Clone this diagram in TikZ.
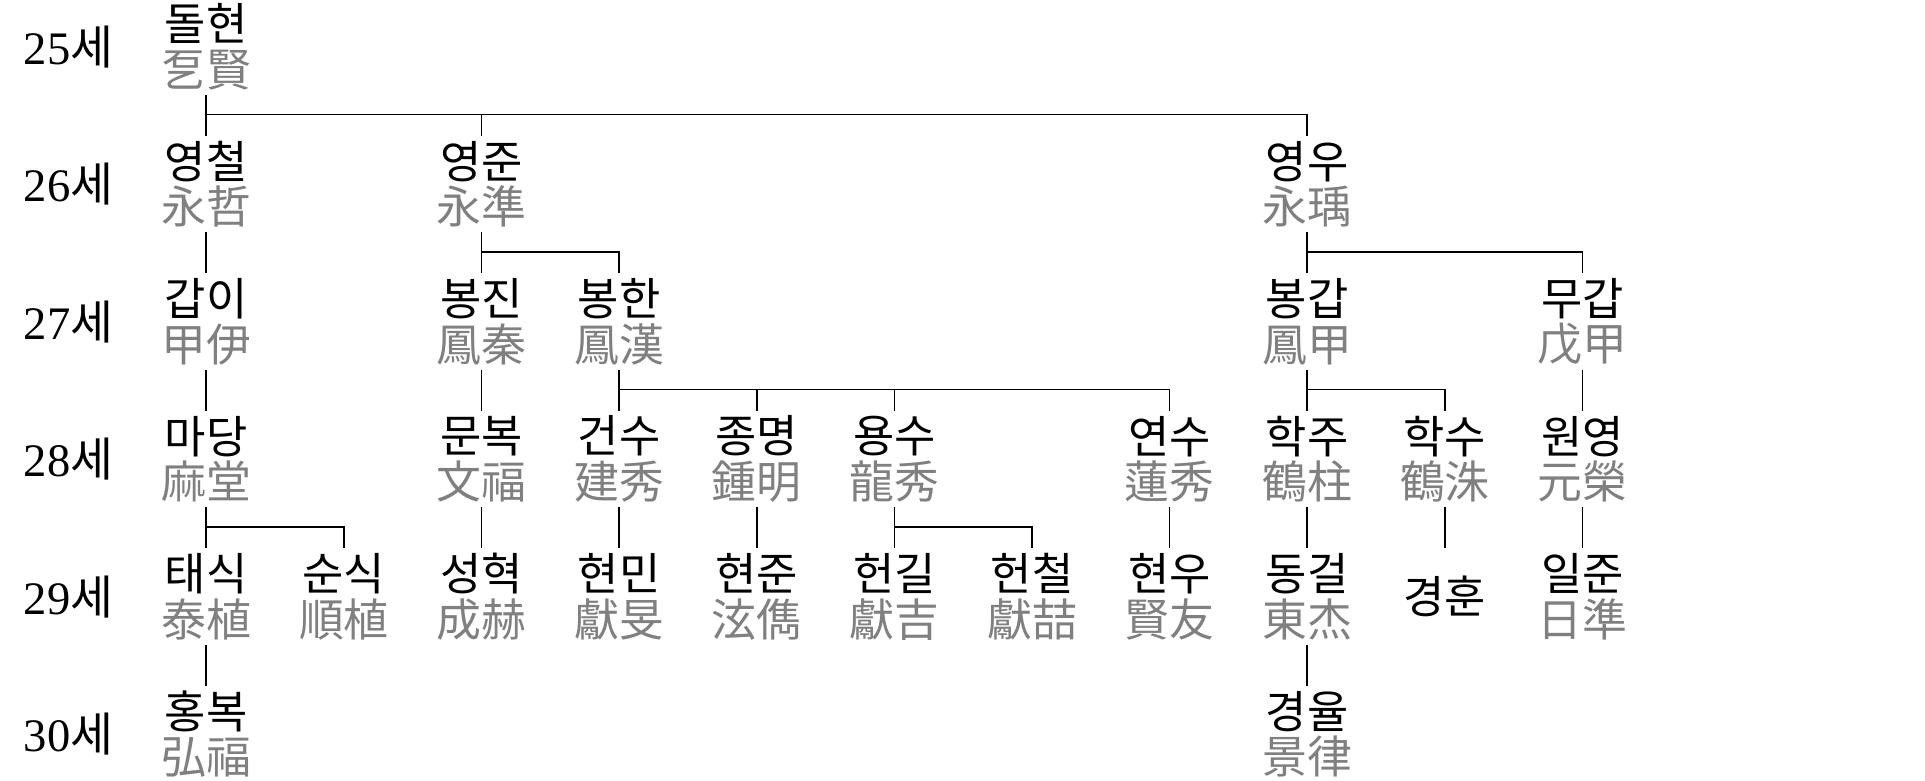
\documentclass[tikz,border=0pt]{standalone}
\usepackage{fontspec}
\setmainfont{Noto Sans CJK KR}
\newfontfamily\numfont{Liberation Serif}
\usepackage{tikz}
\usetikzlibrary{positioning}
\definecolor{hanjagray}{HTML}{808080}
\newcommand\hj[1]{{\color{hanjagray}#1}}

\begin{document}
\begin{tikzpicture}
	\useasboundingbox (0,0) rectangle (39.2,-15.9);
	\begin{scope}[shift={(4.2cm,-0.95cm)},x=2.8025cm,y=-2.8cm,
		person/.style={align=center,inner sep=0pt,minimum height=1.95cm,font=\fontsize{26}{26.5}\selectfont},
		gen/.style={inner sep=0pt,font=\fontsize{27}{27}\selectfont},
		kin/.style={draw,line width=1pt}]
		% generations
		\node[gen] (g25) at (-1,0) {{\numfont 25}세};
		\node[gen] (g26) at (-1,1) {{\numfont 26}세};
		\node[gen] (g27) at (-1,2) {{\numfont 27}세};
		\node[gen] (g28) at (-1,3) {{\numfont 28}세};
		\node[gen] (g29) at (-1,4) {{\numfont 29}세};
		\node[gen] (g30) at (-1,5) {{\numfont 30}세};
		% 25
		\node[person] (dolhyeon) at (0,0) {돌현\\\hj{乭賢}};
		% 26
		\node[person] (yeongcheol) at (0,1) {영철\\\hj{永哲}};
		\node[person] (yeongjun) at (2,1) {영준\\\hj{永準}};
		\node[person] (yeongu) at (8,1) {영우\\\hj{永瑀}};
		% 27
		\node[person] (gabi) at (0,2) {갑이\\\hj{甲伊}};
		\node[person] (bongjin) at (2,2) {봉진\\\hj{鳳秦}};
		\node[person] (bonghan) at (3,2) {봉한\\\hj{鳳漢}};
		\node[person] (bonggap) at (8,2) {봉갑\\\hj{鳳甲}};
		\node[person] (mugap) at (10,2) {무갑\\\hj{戊甲}};
		% 28
		\node[person] (madang) at (0,3) {마당\\\hj{麻堂}};
		\node[person] (munbok) at (2,3) {문복\\\hj{文福}};
		\node[person] (geonsu) at (3,3) {건수\\\hj{建秀}};
		\node[person] (jongmyeong) at (4,3) {종명\\\hj{鍾明}};
		\node[person] (yongsu) at (5,3) {용수\\\hj{龍秀}};
		\node[person] (yeonsu) at (7,3) {연수\\\hj{蓮秀}};
		\node[person] (hakju) at (8,3) {학주\\\hj{鶴柱}};
		\node[person] (haksu) at (9,3) {학수\\\hj{鶴洙}};
		\node[person] (wonyeong) at (10,3) {원영\\\hj{元榮}};
		% 29
		\node[person] (taesik) at (0,4) {태식\\\hj{泰植}};
		\node[person] (sunsik) at (1,4) {순식\\\hj{順植}};
		\node[person] (seonghyeok) at (2,4) {성혁\\\hj{成赫}};
		\node[person] (hyeonmin) at (3,4) {현민\\\hj{獻旻}};
		\node[person] (hyeonjun) at (4,4) {현준\\\hj{泫儁}};
		\node[person] (heongil) at (5,4) {헌길\\\hj{獻吉}};
		\node[person] (heoncheol) at (6,4) {헌철\\\hj{獻喆}};
		\node[person] (hyeonu) at (7,4) {현우\\\hj{賢友}};
		\node[person] (donggeol) at (8,4) {동걸\\\hj{東杰}};
		\node[person] (gyeonghun) at (9,4) {경훈};
		\node[person] (iljun) at (10,4) {일준\\\hj{日準}};
		% 30
		\node[person] (hongbok) at (0,5) {홍복\\\hj{弘福}};
		\node[person] (gyeongyul) at (8,5) {경율\\\hj{景律}};
		% lines
		\draw[kin] (dolhyeon.south) -- ++(0,-0.4cm) -| (yeongcheol.north);
		\draw[kin] (dolhyeon.south) -- ++(0,-0.4cm) -| (yeongjun.north);
		\draw[kin] (dolhyeon.south) -- ++(0,-0.4cm) -| (yeongu.north);
		\draw[kin] (yeongcheol.south) -- (gabi.north);
		\draw[kin] (yeongjun.south) -- ++(0,-0.4cm) -| (bongjin.north);
		\draw[kin] (yeongjun.south) -- ++(0,-0.4cm) -| (bonghan.north);
		\draw[kin] (yeongu.south) -- ++(0,-0.4cm) -| (bonggap.north);
		\draw[kin] (yeongu.south) -- ++(0,-0.4cm) -| (mugap.north);
		\draw[kin] (gabi.south) -- (madang.north);
		\draw[kin] (bongjin.south) -- (munbok.north);
		\draw[kin] (bonghan.south) -- ++(0,-0.4cm) -| (geonsu.north);
		\draw[kin] (bonghan.south) -- ++(0,-0.4cm) -| (jongmyeong.north);
		\draw[kin] (bonghan.south) -- ++(0,-0.4cm) -| (yongsu.north);
		\draw[kin] (bonghan.south) -- ++(0,-0.4cm) -| (yeonsu.north);
		\draw[kin] (bonggap.south) -- ++(0,-0.4cm) -| (hakju.north);
		\draw[kin] (bonggap.south) -- ++(0,-0.4cm) -| (haksu.north);
		\draw[kin] (mugap.south) -- (wonyeong.north);
		\draw[kin] (madang.south) -- ++(0,-0.4cm) -| (taesik.north);
		\draw[kin] (madang.south) -- ++(0,-0.4cm) -| (sunsik.north);
		\draw[kin] (munbok.south) -- (seonghyeok.north);
		\draw[kin] (geonsu.south) -- (hyeonmin.north);
		\draw[kin] (jongmyeong.south) -- (hyeonjun.north);
		\draw[kin] (yongsu.south) -- ++(0,-0.4cm) -| (heongil.north);
		\draw[kin] (yongsu.south) -- ++(0,-0.4cm) -| (heoncheol.north);
		\draw[kin] (yeonsu.south) -- (hyeonu.north);
		\draw[kin] (hakju.south) -- (donggeol.north);
		\draw[kin] (haksu.south) -- (gyeonghun.north);
		\draw[kin] (wonyeong.south) -- (iljun.north);
		\draw[kin] (taesik.south) -- (hongbok.north);
		\draw[kin] (donggeol.south) -- (gyeongyul.north);
	\end{scope}
\end{tikzpicture}
\end{document}
